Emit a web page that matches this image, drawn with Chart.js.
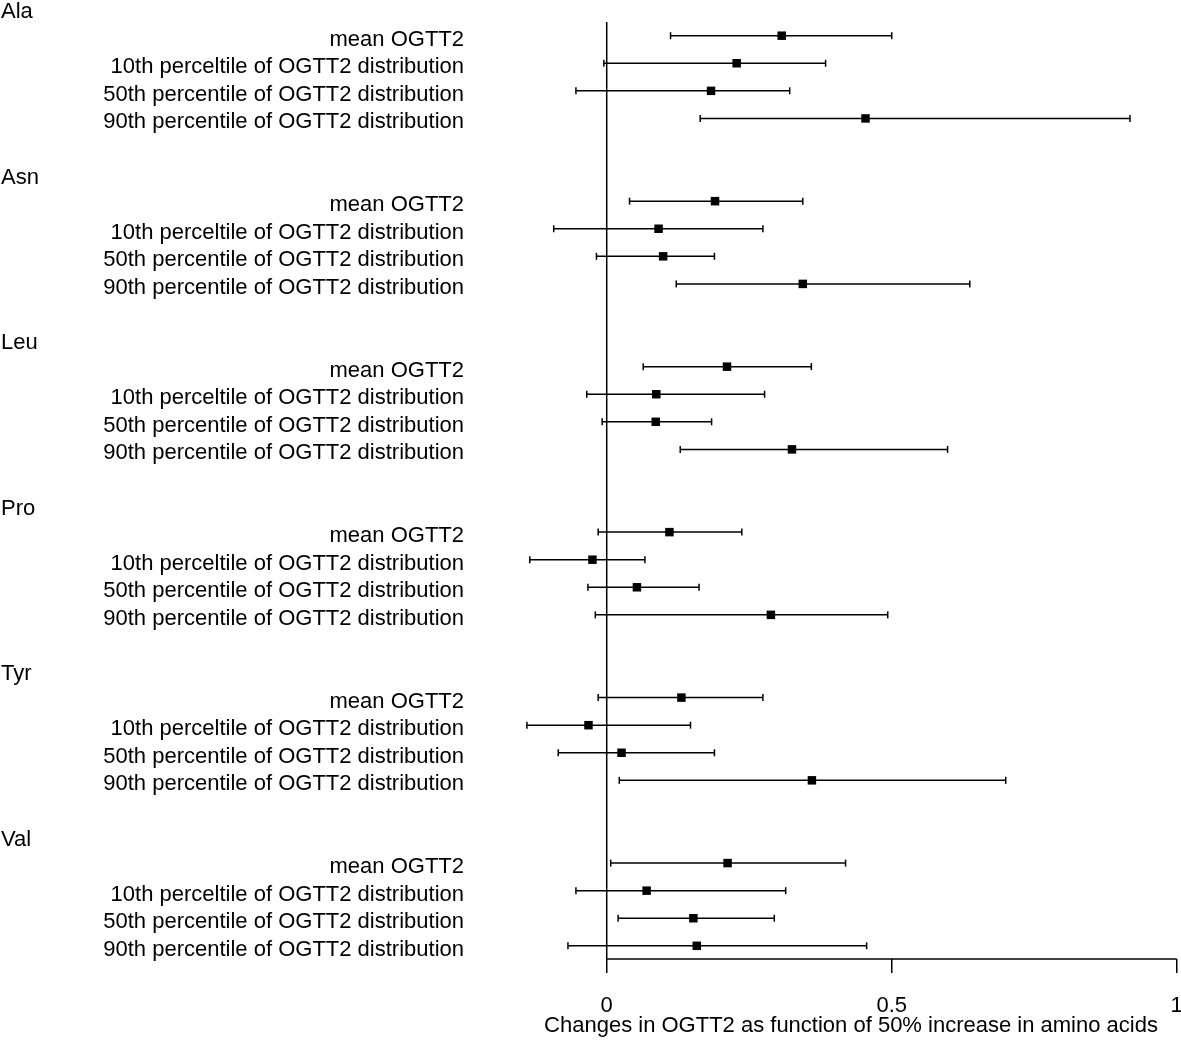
<!DOCTYPE html>
<html lang="en">
<head>
  <meta charset="UTF-8">
  <title>Changes in OGTT2</title>
  <script src="https://cdn.jsdelivr.net/npm/chart.js"></script>
  <style>
    html, body { margin: 0; padding: 0; background: #fff; }
    #wrap { width: 1181px; height: 1044px; }
  </style>
</head>
<body>
  <div id="wrap"><canvas id="forest"></canvas></div>

  <script>
    // amino acids and the four OGTT2 outcomes for each
    const groups = ['Ala', 'Asn', 'Leu', 'Pro', 'Tyr', 'Val'];
    const rowLabels = [
      'mean OGTT2',
      '10th perceltile of OGTT2 distribution',
      '50th percentile of OGTT2 distribution',
      '90th percentile of OGTT2 distribution'
    ];

    // estimate, lower and upper CI per group (same order as rowLabels)
    const estimates = [
      [0.307, 0.228, 0.183, 0.454],
      [0.190, 0.091, 0.099, 0.344],
      [0.211, 0.087, 0.086, 0.325],
      [0.110, -0.025, 0.053, 0.288],
      [0.131, -0.032, 0.026, 0.360],
      [0.212, 0.070, 0.152, 0.158]
    ];
    const lower = [
      [0.112, -0.005, -0.054, 0.164],
      [0.040, -0.093, -0.018, 0.122],
      [0.064, -0.035, -0.008, 0.129],
      [-0.015, -0.135, -0.033, -0.020],
      [-0.015, -0.140, -0.085, 0.022],
      [0.007, -0.054, 0.020, -0.068]
    ];
    const upper = [
      [0.500, 0.384, 0.321, 0.918],
      [0.344, 0.274, 0.189, 0.637],
      [0.359, 0.277, 0.184, 0.598],
      [0.237, 0.067, 0.162, 0.493],
      [0.274, 0.147, 0.189, 0.700],
      [0.419, 0.314, 0.294, 0.456]
    ];
    const xTicks = [0, 0.5, 1];
    const xTitle = 'Changes in OGTT2 as function of 50% increase in amino acids';

    const FONT = 'Arial, "Liberation Sans", sans-serif';
    // each group takes 6 slots: label, 4 rows, blank
    const slot = (g, r) => g * 6 + r + 1;

    const points = [];
    const ciLines = [];
    groups.forEach((g, gi) => {
      rowLabels.forEach((lab, ri) => {
        const y = slot(gi, ri);
        points.push({ x: estimates[gi][ri], y });
        ciLines.push({ x: lower[gi][ri], y }, { x: upper[gi][ri], y }, { x: upper[gi][ri], y: null });
      });
    });

    const Y_MIN = -0.294, Y_MAX = 34.478;

    // row/group labels, tick labels, title and the axis line from 0 to 1
    const labelPlugin = {
      id: 'forestLabels',
      afterDraw(chart) {
        const { ctx, scales: { x, y } } = chart;
        ctx.save();
        ctx.fillStyle = '#000';
        ctx.font = '22px ' + FONT;
        ctx.textBaseline = 'middle';
        groups.forEach((g, gi) => {
          ctx.textAlign = 'left';
          ctx.fillText(g, 1, y.getPixelForValue(gi * 6) + 4);
          rowLabels.forEach((lab, ri) => {
            ctx.textAlign = 'right';
            ctx.fillText(lab, 464, y.getPixelForValue(slot(gi, ri)) + 4);
          });
        });

        const yb = y.getPixelForValue(Y_MAX);
        ctx.strokeStyle = '#000';
        ctx.lineWidth = 1.5;
        ctx.beginPath();
        ctx.moveTo(x.getPixelForValue(xTicks[0]), yb);
        ctx.lineTo(x.getPixelForValue(xTicks[xTicks.length - 1]), yb);
        ctx.stroke();

        ctx.textBaseline = 'alphabetic';
        ctx.textAlign = 'center';
        xTicks.forEach(v => ctx.fillText(String(v), x.getPixelForValue(v), 1012));
        ctx.fillText(xTitle, 851, 1032);
        ctx.restore();
      }
    };

    new Chart(document.getElementById('forest'), {
      data: {
        datasets: [
          {
            type: 'scatter',
            data: points,
            pointStyle: 'rect',
            pointRadius: 6,
            pointHoverRadius: 6,
            backgroundColor: '#000',
            borderWidth: 0,
            order: 0
          },
          {
            type: 'line',
            data: ciLines,
            borderColor: '#000',
            borderWidth: 1.5,
            spanGaps: false,
            pointStyle: 'line',
            rotation: 90,
            pointRadius: 3.5,
            pointBorderColor: '#000',
            pointBorderWidth: 1.5,
            order: 1
          },
          {
            type: 'line',
            data: [{ x: 0, y: 0.5 }, { x: 0, y: Y_MAX }],
            borderColor: '#000',
            borderWidth: 1.5,
            pointRadius: 0,
            order: 2
          }
        ]
      },
      options: {
        responsive: true,
        maintainAspectRatio: false,
        animation: false,
        layout: { autoPadding: false, padding: 0 },
        plugins: { legend: { display: false }, tooltip: { enabled: false } },
        scales: {
          x: {
            type: 'linear',
            min: -1.0644,
            max: 1.0075,
            afterBuildTicks: axis => { axis.ticks = xTicks.map(v => ({ value: v })); },
            afterFit: axis => { axis.height = 85; },
            border: { display: false },
            grid: {
              drawOnChartArea: false,
              drawTicks: true,
              tickLength: 14,
              color: '#000',
              lineWidth: 1.5
            },
            ticks: { display: false },
            title: { display: false }
          },
          y: {
            type: 'linear',
            display: false,
            reverse: true,
            min: Y_MIN,
            max: Y_MAX
          }
        }
      },
      plugins: [labelPlugin]
    });
  </script>
</body>
</html>
